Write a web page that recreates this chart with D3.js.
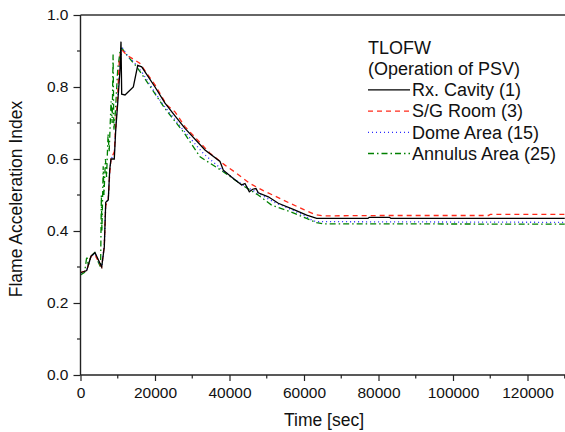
<!DOCTYPE html>
<html>
<head>
<meta charset="utf-8">
<script src="https://cdn.jsdelivr.net/npm/d3@7"></script>
<style>
  html, body { margin: 0; padding: 0; background: #fff; }
  svg { display: block; font-family: "Liberation Sans", Arial, sans-serif; }
</style>
</head>
<body>
<svg id="chart" width="565" height="432"></svg>
<script>
// ---- data ----
const xTicks = [0, 20000, 40000, 60000, 80000, 100000, 120000];
const yTicks = [0.0, 0.2, 0.4, 0.6, 0.8, 1.0];
const legendTitle = ["TLOFW", "(Operation of PSV)"];
const seriesNames = ["Rx. Cavity (1)", "S/G Room (3)", "Dome Area (15)", "Annulus Area (25)"];

const rxCavity = [[0,0.284],[1660,0.29],[2820,0.33],[3890,0.34],[4780,0.32],[5690,0.30],[6390,0.356],[6770,0.48],[7460,0.486],[7840,0.57],[8190,0.60],[9070,0.60],[9450,0.68],[9990,0.755],[10600,0.847],[10870,0.926],[11060,0.78],[11950,0.778],[14180,0.80],[15360,0.86],[16430,0.856],[20000,0.80],[22690,0.755],[25370,0.72],[28050,0.685],[33420,0.625],[37450,0.593],[38340,0.569],[41020,0.546],[43280,0.528],[44160,0.532],[45320,0.509],[46230,0.516],[47110,0.518],[47730,0.506],[50420,0.495],[53100,0.477],[57130,0.46],[60730,0.444],[63410,0.435],[77180,0.435],[77500,0.438],[83000,0.438],[83300,0.435],[130000,0.435]];

const sgRoom = [[0,0.285],[1660,0.29],[2820,0.33],[3890,0.335],[4780,0.315],[5690,0.30],[6390,0.36],[6770,0.47],[7460,0.49],[7840,0.56],[8190,0.60],[9070,0.62],[9450,0.69],[9990,0.78],[10400,0.87],[10900,0.905],[12400,0.889],[15900,0.866],[20000,0.806],[23140,0.75],[25370,0.731],[28050,0.69],[34760,0.616],[38790,0.583],[41920,0.56],[45500,0.532],[49080,0.512],[52660,0.495],[56240,0.477],[59820,0.46],[62900,0.446],[65150,0.442],[80000,0.443],[109500,0.443],[110000,0.446],[130000,0.446]];

const domeArea = [[0,0.283],[1660,0.29],[2820,0.33],[3890,0.338],[4780,0.318],[5690,0.30],[6390,0.36],[6770,0.475],[7460,0.49],[7840,0.565],[8190,0.60],[9070,0.615],[9450,0.685],[9990,0.77],[10500,0.86],[11200,0.91],[12400,0.89],[15100,0.86],[16700,0.838],[21800,0.756],[28000,0.675],[33000,0.615],[38400,0.567],[43300,0.53],[48000,0.503],[52000,0.48],[56000,0.462],[60000,0.443],[62500,0.428],[64000,0.426],[130000,0.424]];

const annulusArea = [[0,0.278],[1100,0.285],[1700,0.33],[2100,0.305],[2800,0.33],[3800,0.34],[4700,0.315],[5400,0.30],[5600,0.50],[5750,0.40],[6100,0.58],[6300,0.50],[6700,0.60],[7000,0.55],[7400,0.67],[7700,0.62],[8200,0.76],[8500,0.70],[8750,0.89],[8950,0.68],[9300,0.72],[10000,0.85],[10700,0.905],[11100,0.908],[12400,0.889],[15100,0.856],[17800,0.815],[22700,0.74],[28000,0.67],[32100,0.606],[38300,0.565],[43300,0.528],[47700,0.50],[51300,0.472],[56200,0.454],[60700,0.435],[63400,0.423],[65000,0.42],[130000,0.419]];

// ---- layout ----
const svg = d3.select("#chart");
const mLeft = 80.5, mRight = 564.75, mTop = 15, mBottom = 375;
const x = d3.scaleLinear().domain([0, 130000]).range([mLeft, mRight]);
const y = d3.scaleLinear().domain([0, 1]).range([mBottom, mTop]);

const series = [
  { name: seriesNames[0], data: rxCavity,    color: "#000000", dash: null,      width: 1.3 },
  { name: seriesNames[1], data: sgRoom,      color: "#ff2a1a", dash: "5,4",     width: 1.3 },
  { name: seriesNames[2], data: domeArea,    color: "#2a2aff", dash: "1,3",     width: 1.3 },
  { name: seriesNames[3], data: annulusArea, color: "#008000", dash: "6,3,1.5,3", width: 1.3 }
];

const line = d3.line().x(d => x(d[0])).y(d => y(d[1]));

// plot lines (drawn in reverse so black is on top)
const g = svg.append("g");
series.slice().reverse().forEach(s => {
  g.append("path")
    .attr("d", line(s.data))
    .attr("fill", "none")
    .attr("stroke", s.color)
    .attr("stroke-width", s.width)
    .attr("stroke-dasharray", s.dash);
});

// frame top
svg.append("line").attr("x1", mLeft).attr("x2", 566).attr("y1", mTop).attr("y2", mTop)
  .attr("stroke", "#333").attr("stroke-width", 1.6);

// axes
const fontTick = 15.5;
const xAxis = d3.axisBottom(x).tickValues(xTicks).tickFormat(d3.format("d")).tickSize(6).tickPadding(6);
const gx = svg.append("g").attr("transform", `translate(0,${mBottom})`).call(xAxis);
gx.select(".domain").attr("d", `M${mLeft},0H566`).attr("stroke", "#222").attr("stroke-width", 1.4);
gx.selectAll(".tick line").attr("stroke", "#222").attr("stroke-width", 1.2);
gx.selectAll("text").attr("font-size", fontTick).attr("font-family", "Liberation Sans, Arial, sans-serif").attr("fill", "#111");

const xMinor = d3.range(10000, 130001, 20000);
svg.append("g").selectAll("line").data(xMinor).join("line")
  .attr("x1", d => x(d)).attr("x2", d => x(d)).attr("y1", mBottom).attr("y2", mBottom + 3.5)
  .attr("stroke", "#222").attr("stroke-width", 1.2);

const yAxis = d3.axisLeft(y).tickValues(yTicks).tickFormat(d3.format(".1f")).tickSize(7).tickPadding(5);
const gy = svg.append("g").attr("transform", `translate(${mLeft},0)`).call(yAxis);
gy.select(".domain").attr("d", `M0,${mBottom}V${mTop}`).attr("stroke", "#222").attr("stroke-width", 1.4);
gy.selectAll(".tick line").attr("stroke", "#222").attr("stroke-width", 1.2);
gy.selectAll("text").attr("font-size", fontTick).attr("font-family", "Liberation Sans, Arial, sans-serif").attr("fill", "#111");

const yMinor = [0.1, 0.3, 0.5, 0.7, 0.9];
svg.append("g").selectAll("line").data(yMinor).join("line")
  .attr("x1", mLeft - 3.5).attr("x2", mLeft).attr("y1", d => y(d)).attr("y2", d => y(d))
  .attr("stroke", "#222").attr("stroke-width", 1.2);

// axis titles
svg.append("text").attr("x", 324).attr("y", 426).attr("text-anchor", "middle")
  .attr("font-size", 17.5).attr("fill", "#111").text("Time [sec]");
svg.append("text").attr("transform", "translate(22,199) rotate(-90)").attr("text-anchor", "middle")
  .attr("font-size", 17.5).attr("fill", "#111").text("Flame Acceleration Index");

// legend
const lg = svg.append("g");
const lx = 368, ly0 = 47.5, dy = 21.2;
const fontLegend = 18;
legendTitle.forEach((t, i) => {
  lg.append("text").attr("x", lx).attr("y", ly0 + i * dy).attr("dy", "0.35em")
    .attr("font-size", fontLegend).attr("fill", "#111").text(t);
});
series.forEach((s, i) => {
  const yy = ly0 + (i + 2) * dy;
  lg.append("line").attr("x1", lx).attr("x2", lx + 42).attr("y1", yy).attr("y2", yy)
    .attr("stroke", s.color).attr("stroke-width", s.width).attr("stroke-dasharray", s.dash);
  lg.append("text").attr("x", lx + 44).attr("y", yy).attr("dy", "0.35em")
    .attr("font-size", fontLegend).attr("fill", "#111").text(s.name);
});
</script>
</body>
</html>
